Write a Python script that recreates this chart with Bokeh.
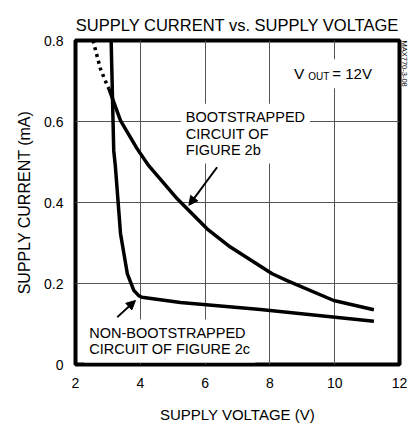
import math
from bokeh.plotting import figure
from bokeh.models import Label, Arrow, NormalHead, Range1d, FixedTicker, Title
from bokeh.embed import file_html
from bokeh.resources import INLINE

# ---- data ----
x_ticks = [2, 4, 6, 8, 10, 12]
y_ticks = [0, 0.2, 0.4, 0.6, 0.8]
y_tick_labels = {0: "0", 0.2: "0.2", 0.4: "0.4", 0.6: "0.6", 0.8: "0.8"}

# bootstrapped circuit (solid part)
boot_v = [3.03, 3.39, 3.90, 4.26, 5.14, 6.06, 6.78, 8.07, 8.53, 9.97, 11.21]
boot_i = [0.681, 0.602, 0.533, 0.491, 0.409, 0.335, 0.290, 0.224, 0.207, 0.158, 0.135]
# bootstrapped circuit (dotted, extrapolated part)
boot_dot_v = [2.54, 2.77, 2.98, 3.03]
boot_dot_i = [0.80, 0.73, 0.689, 0.681]
# non-bootstrapped circuit
nb_v = [3.10, 3.18, 3.23, 3.39, 3.60, 3.80, 3.95, 4.05, 5.24, 7.71, 11.21]
nb_i = [0.80, 0.528, 0.49, 0.323, 0.224, 0.183, 0.170, 0.166, 0.153, 0.136, 0.107]

FONT = "Liberation Sans"

p = figure(width=411, height=428, output_backend="svg", toolbar_location=None,
           x_range=Range1d(2, 12), y_range=Range1d(0, 0.8),
           min_border_left=75, min_border_right=12, min_border_top=40,
           min_border_bottom=64)

# default title left empty; the real title is added as its own Title
p.title.text = ""
p.title.text_font_size = "1px"
p.title.standoff = 0
p.add_layout(Title(text="SUPPLY CURRENT vs. SUPPLY VOLTAGE", text_font=FONT,
                   text_font_size="16.5px", text_font_style="normal",
                   align="center", text_color="black", standoff=14), "above")

# small figure code on the right edge
p.add_layout(Title(text="MAX770-3-08", text_font=FONT, text_font_size="7.5px",
                   text_font_style="normal", text_color="black", align="left",
                   standoff=0), "right")

p.outline_line_color = "black"
p.outline_line_width = 4

for ax in (p.xaxis, p.yaxis):
    ax.axis_line_color = None
    ax.major_tick_line_color = None
    ax.minor_tick_line_color = None
    ax.major_tick_in = 0
    ax.major_tick_out = 0
    ax.major_label_text_font = FONT
    ax.major_label_text_font_size = "14px"
    ax.major_label_text_color = "black"
    ax.axis_label_text_font = FONT
    ax.axis_label_text_font_style = "normal"
    ax.axis_label_text_color = "black"

p.xaxis.ticker = FixedTicker(ticks=x_ticks)
p.yaxis.ticker = FixedTicker(ticks=y_ticks)
p.yaxis.major_label_overrides = y_tick_labels
p.xaxis.axis_label = "SUPPLY VOLTAGE (V)"
p.yaxis.axis_label = "SUPPLY CURRENT (mA)"
p.xaxis.axis_label_text_font_size = "15px"
p.yaxis.axis_label_text_font_size = "16px"
p.xaxis.major_label_standoff = 13
p.yaxis.major_label_standoff = 12
p.xaxis.axis_label_standoff = 15
p.yaxis.axis_label_standoff = 8

p.xgrid.grid_line_color = "#555555"
p.ygrid.grid_line_color = "#555555"
p.xgrid.grid_line_width = 1
p.ygrid.grid_line_width = 1

# curves
p.line(boot_dot_v, boot_dot_i, line_color="black", line_width=3.5, line_dash="3 4")
p.line(boot_v, boot_i, line_color="black", line_width=3.5, line_join="round")
p.line(nb_v, nb_i, line_color="black", line_width=3.5, line_join="round")

def lab(x, y, text, size="14.5px", align="left", baseline="middle", bg=True,
        angle=0, pad=5, lh=1.05):
    l = Label(x=x, y=y, text=text, text_font=FONT, text_font_size=size,
              text_align=align, text_baseline=baseline, text_color="black",
              angle=angle, text_line_height=lh,
              background_fill_color="white" if bg else None,
              padding=pad if bg else 0)
    p.add_layout(l)
    return l

# annotations
lab(5.25, 0.570, "BOOTSTRAPPED\nCIRCUIT OF\nFIGURE 2b")
lab(2.27, 0.058, "NON-BOOTSTRAPPED\nCIRCUIT OF FIGURE 2c")

# V_OUT = 12V
lab(9.74, 0.718, "= 12V", size="15px", pad=6)
lab(8.74, 0.718, "V", size="15.5px", bg=False)
lab(9.18, 0.712, "OUT", size="10px", bg=False)

head = dict(size=9, fill_color="black", line_color="black")
p.add_layout(Arrow(end=NormalHead(**head), x_start=6.37, y_start=0.487,
                   x_end=5.50, y_end=0.393, line_width=2, line_color="black"))
p.add_layout(Arrow(end=NormalHead(**head), x_start=3.29, y_start=0.117,
                   x_end=3.85, y_end=0.158, line_width=2, line_color="black"))

open("out.html", "w").write(file_html(p, INLINE))
